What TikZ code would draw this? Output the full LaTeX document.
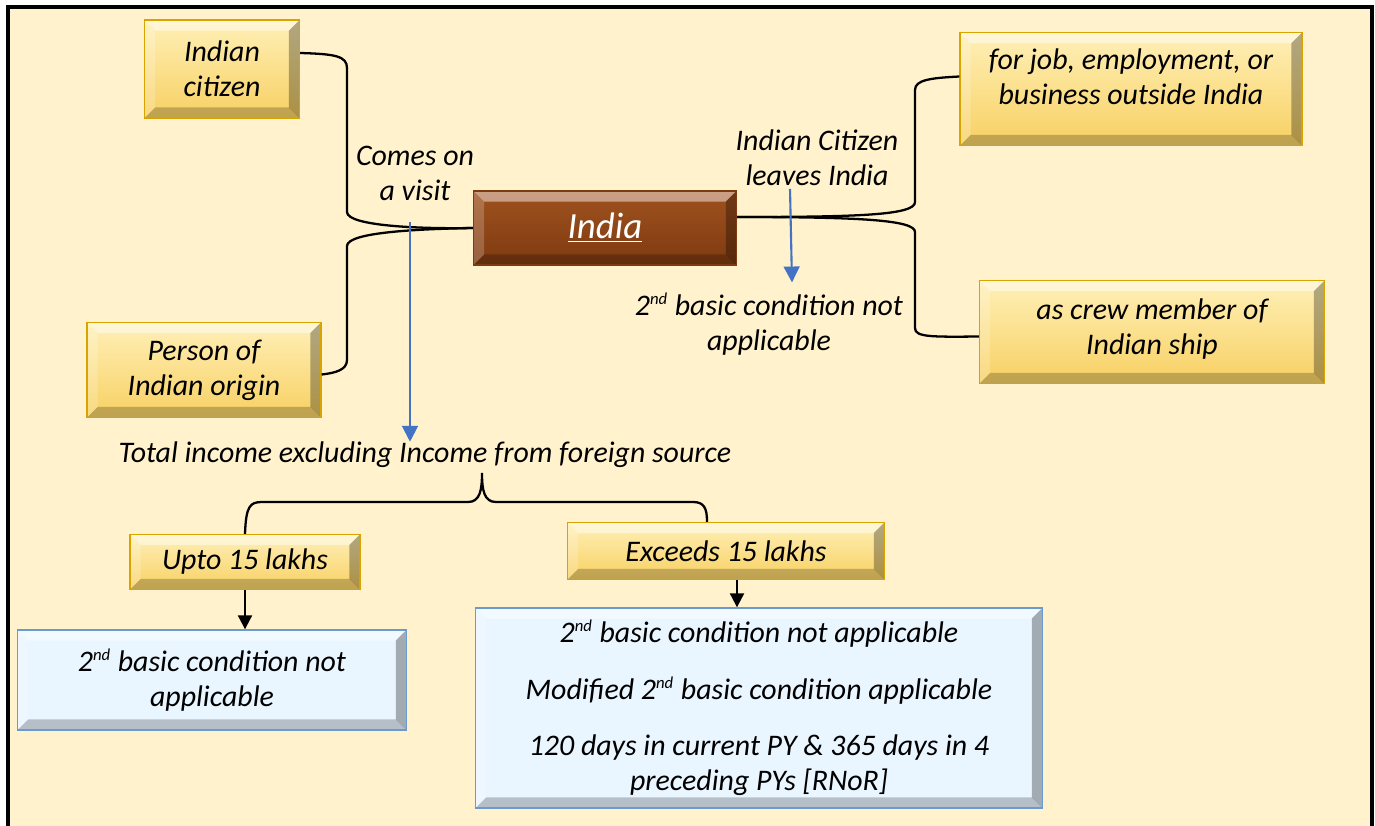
\documentclass[tikz,border=0pt]{standalone}
\usepackage{fontspec}
\setmainfont{Carlito}
\usetikzlibrary{positioning,arrows.meta}
\definecolor{cream}{HTML}{FFF2CC}
\definecolor{goldtop}{HTML}{FFF0B8}
\definecolor{goldbot}{HTML}{F7D062}
\definecolor{goldline}{HTML}{D9A300}
\definecolor{browntop}{HTML}{A0521F}
\definecolor{brownbot}{HTML}{7E3A10}
\definecolor{icefill}{HTML}{EAF6FF}
\definecolor{iceline}{HTML}{6A9BD0}
\definecolor{arrowblue}{HTML}{4472C4}
\newcommand\nd{\textsuperscript{\scalebox{0.8}{nd}}}
\tikzset{txt/.style={font=\itshape\fontsize{17}{20}\selectfont,align=center,inner sep=0pt}}
\tikzset{bevel/.style={path picture={
  \fill[white,opacity=.45] (path picture bounding box.north west) -- (path picture bounding box.north east)
    -- ([shift={(-6pt,-6pt)}]path picture bounding box.north east) -- ([shift={(6pt,-6pt)}]path picture bounding box.north west) -- cycle;
  \fill[white,opacity=.2] (path picture bounding box.north west) -- (path picture bounding box.south west)
    -- ([shift={(6pt,6pt)}]path picture bounding box.south west) -- ([shift={(6pt,-6pt)}]path picture bounding box.north west) -- cycle;
  \fill[black,opacity=.3] (path picture bounding box.north east) -- (path picture bounding box.south east)
    -- ([shift={(-6pt,6pt)}]path picture bounding box.south east) -- ([shift={(-6pt,-6pt)}]path picture bounding box.north east) -- cycle;
  \fill[black,opacity=.22] (path picture bounding box.south west) -- (path picture bounding box.south east)
    -- ([shift={(-6pt,6pt)}]path picture bounding box.south east) -- ([shift={(6pt,6pt)}]path picture bounding box.south west) -- cycle;
}}}
\tikzset{goldbox/.style={txt,rectangle,draw=goldline,line width=0.8pt,top color=goldtop,bottom color=goldbot,bevel}}
\tikzset{icebox/.style={txt,rectangle,draw=iceline,line width=0.8pt,fill=icefill,bevel}}
\tikzset{conn/.style={draw,line width=1.3pt}}
\tikzset{bluearrow/.style={draw=arrowblue,line width=1.2pt,-{Triangle[length=9pt,width=9pt]}}}
\tikzset{blackarrow/.style={draw,line width=1.2pt,-{Triangle[length=8pt,width=8pt]}}}

\begin{document}
\begin{tikzpicture}[x=0.02cm,y=-0.02cm]
    \useasboundingbox (0,0) rectangle (1375,825);
    \fill[white] (0,0) rectangle (1375,825);
    \fill[cream] (8,7) rectangle (1372,830);
    \draw[line width=2pt] (8,830) -- (8,7) -- (1372,7) -- (1372,830);
    % centre
    \node[txt,rectangle,draw=brownbot,line width=0.8pt,top color=browntop,bottom color=brownbot,bevel,
          minimum width=5.26cm,minimum height=1.48cm,text=white,font=\itshape\fontsize{21}{24}\selectfont] (india) at (605,228) {\underline{India}};
    % who comes / leaves
    \node[goldbox,minimum width=3.1cm,minimum height=1.96cm] (citizen) at (222,69) {Indian\\citizen};
    \node[goldbox,minimum width=4.68cm,minimum height=1.9cm] (origin) at (204,370) {Person of\\Indian origin};
    \node[goldbox,minimum width=6.84cm,minimum height=2.26cm,text depth=0.5cm] (job) at (1131,89) {for job, employment, or\\business outside India};
    \node[goldbox,minimum width=6.9cm,minimum height=2.06cm,text depth=0.2cm] (crew) at (1152,332) {as crew member of\\Indian ship};
    \node[txt] (visit) at (415,173) {Comes on\\a visit};
    \node[txt] (leaves) at (817,158) {Indian Citizen\\leaves India};
    \node[txt] (notapp) at (769,324) {2\nd{} basic condition not\\applicable};
    \node[txt] (total) at (425,455) {Total income excluding Income from foreign source};
    % income split
    \node[goldbox,minimum width=4.6cm,minimum height=1.1cm] (upto) at (245,562) {Upto 15 lakhs};
    \node[goldbox,minimum width=6.34cm,minimum height=1.14cm] (exceeds) at (726,551) {Exceeds 15 lakhs};
    \node[icebox,minimum width=7.78cm,minimum height=2cm] (leftres) at (212,680) {2\nd{} basic condition not\\applicable};
    \node[icebox,minimum width=11.34cm,minimum height=4cm] (rightres) at (759,708)
        {2\nd{} basic condition not applicable\\[12pt]
         Modified 2\nd{} basic condition applicable\\[12pt]
         120 days in current PY \& 365 days in 4\\preceding PYs [RNoR]};
    % connectors
    \coordinate (tip) at (482,473);
    \coordinate (visitfoot) at (410,222);
    \coordinate (exfoot) at ([xshift=0.22cm]exceeds.south);
    \path[conn] ([yshift=0.32cm]citizen.east) .. controls (335,54) and (347,56) .. (347,68)
        -- (347,212) .. controls (347,226) and (420,229) .. (india.west);
    \path[conn] (india.west) .. controls (420,229) and (347,232) .. (347,246)
        -- (347,360) .. controls (347,370) and (335,373) .. ([yshift=-0.09cm]origin.east);
    \path[conn] ([yshift=0.22cm]india.east) .. controls (860,217) and (915,215) .. (915,202)
        -- (915,90) .. controls (915,80) and (930,78) .. ([yshift=0.25cm]job.west);
    \path[conn] ([yshift=0.22cm]india.east) .. controls (860,217) and (915,220) .. (915,232)
        -- (915,328) .. controls (915,337) and (930,337) .. ([yshift=-0.09cm]crew.west);
    \path[conn] (upto.north) .. controls (246,506) and (250,502) .. (262,502) -- (468,502)
        .. controls (480,502) and (482,490) .. (tip) .. controls (482,490) and (484,502) .. (496,502)
        -- (693,502) .. controls (704,502) and (707,508) .. ([xshift=-0.38cm]exceeds.north);
    \path[bluearrow] (visitfoot) -- (visitfoot |- total.north);
    \path[bluearrow] ([xshift=-0.54cm,yshift=-0.05cm]leaves.south) -- ([xshift=0.46cm,yshift=0.2cm]notapp.north);
    \path[blackarrow] (upto.south) -- (upto.south |- leftres.north);
    \path[blackarrow] (exfoot) -- (exfoot |- rightres.north);
\end{tikzpicture}
\end{document}
